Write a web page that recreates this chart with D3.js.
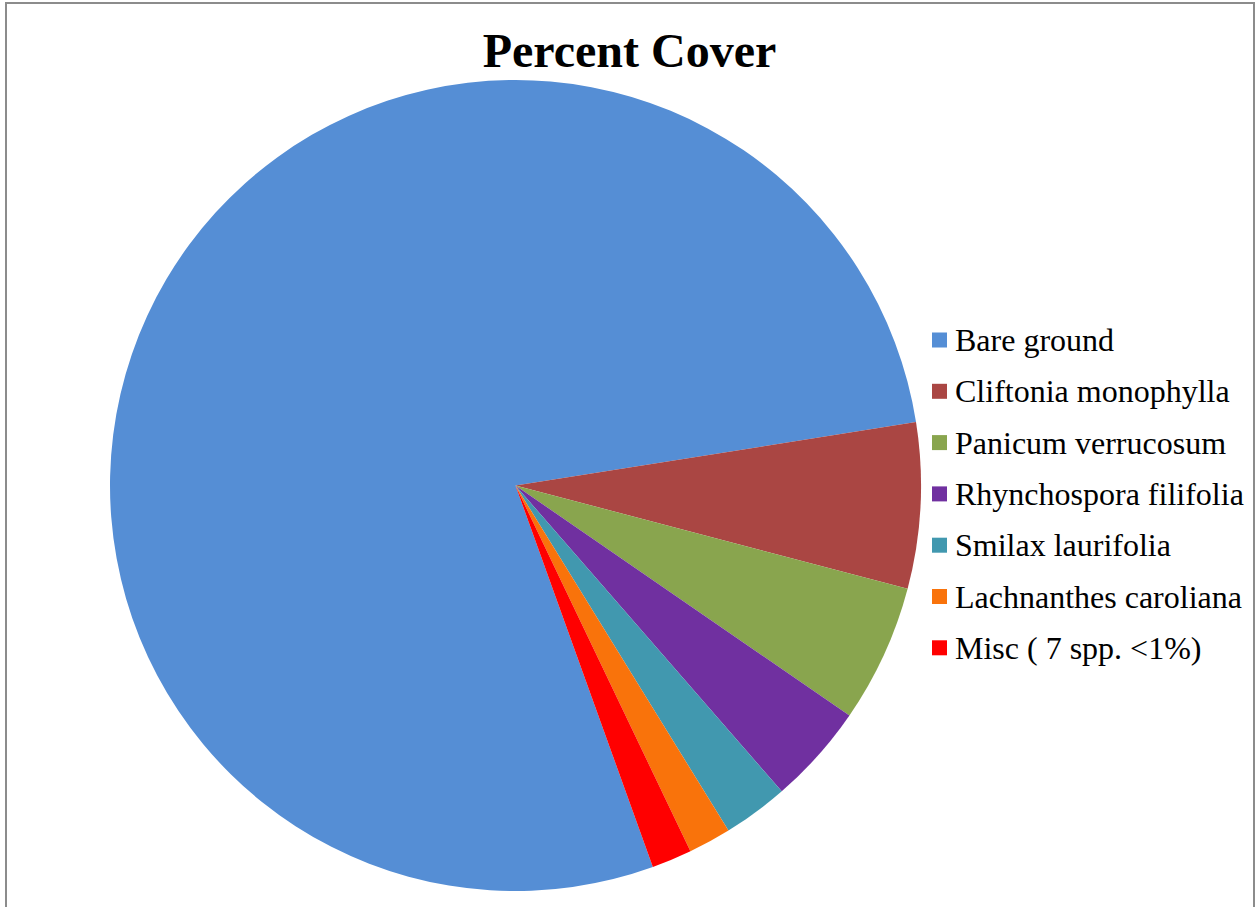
<!DOCTYPE html>
<html>
<head>
<meta charset="utf-8">
<script src="https://cdnjs.cloudflare.com/ajax/libs/d3/7.8.5/d3.min.js"></script>
<style>
  html, body { margin: 0; padding: 0; background: #fff; }
  svg { display: block; }
</style>
</head>
<body>
<svg id="chart" width="1256" height="907"></svg>
<script>
// Percent cover by category
const categories = [
  "Bare ground",
  "Cliftonia monophylla",
  "Panicum verrucosum",
  "Rhynchospora filifolia",
  "Smilax laurifolia",
  "Lachnanthes caroliana",
  "Misc ( 7 spp. <1%)"
];
const coverValues = [78.0, 6.6, 5.5, 4.0, 2.6, 1.7, 1.6];
const sliceColors = ["#558ED5", "#AA4643", "#89A54E", "#7030A0", "#4198AF", "#F9730B", "#FF0000"];

const svg = d3.select("#chart");
const font = "'Liberation Serif', 'Times New Roman', serif";

// Chart frame
svg.append("rect")
  .attr("x", 6).attr("y", 3)
  .attr("width", 1248).attr("height", 910)
  .attr("fill", "#fff")
  .attr("stroke", "#8c8c8c")
  .attr("stroke-width", 2);

// Title
svg.append("text")
  .attr("x", 629.5).attr("y", 67)
  .attr("text-anchor", "middle")
  .attr("font-family", font)
  .attr("font-weight", "bold")
  .attr("font-size", 48)
  .attr("fill", "#000")
  .text("Percent Cover");

// Pie, first slice rotated clockwise from 12 o'clock
const firstSliceAngle = 160.2 * Math.PI / 180;
const pie = d3.pie()
  .sort(null)
  .startAngle(firstSliceAngle)
  .endAngle(firstSliceAngle + 2 * Math.PI)
  .value(d => d);

const radius = 405.5;
const arc = d3.arc().innerRadius(0).outerRadius(radius);
const color = d3.scaleOrdinal().domain(categories).range(sliceColors);

const g = svg.append("g").attr("transform", "translate(515.5,485.5)");
g.selectAll("path")
  .data(pie(coverValues))
  .join("path")
  .attr("d", arc)
  .attr("fill", (d, i) => color(categories[i]));

// Legend
const legend = svg.append("g").attr("transform", "translate(932,340)");
const rows = legend.selectAll("g")
  .data(categories)
  .join("g")
  .attr("transform", (d, i) => `translate(0,${i * 51.3})`);
rows.append("rect")
  .attr("x", 0).attr("y", -7.5)
  .attr("width", 15).attr("height", 15)
  .attr("fill", d => color(d));
rows.append("text")
  .attr("x", 23).attr("y", 11)
  .attr("font-family", font)
  .attr("font-size", 32)
  .attr("fill", "#000")
  .text(d => d);
</script>
</body>
</html>
